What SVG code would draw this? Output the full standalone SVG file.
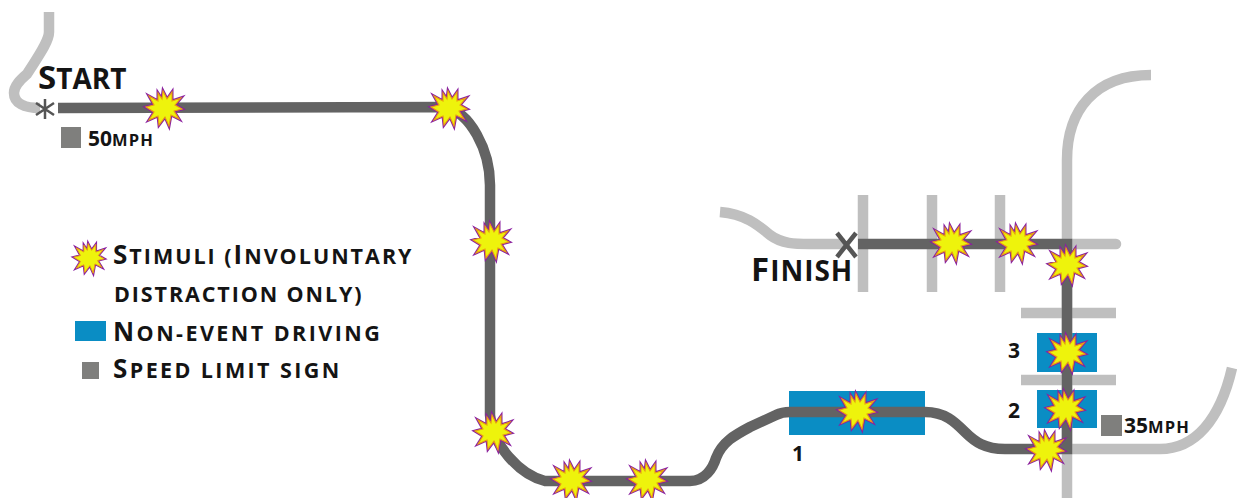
<svg xmlns="http://www.w3.org/2000/svg" xmlns:xlink="http://www.w3.org/1999/xlink" width="1241" height="498" viewBox="0 0 1241 498">
<style>
.lt{fill:none;stroke:#bfbfbf;stroke-width:10.5}
.dk{fill:none;stroke:#636363;stroke-width:10.5}
.mk{fill:none;stroke:#555;stroke-linecap:butt}
.bl{fill:#0a8dc4}
.gr{fill:#7f7f7d}
text{font-family:"Open Sans","Noto Sans",sans-serif;font-weight:700;fill:#141414}
.t1{font-size:33px}
.t1 tspan{font-size:28px}
.t2{font-size:26px;letter-spacing:2px}
.t2 tspan{font-size:21.5px}
.t3{font-size:21px}
.t3 tspan{font-size:16.5px;letter-spacing:1.2px}
.so{fill:none;stroke:#8a1fa0;stroke-width:3;stroke-linejoin:miter;stroke-miterlimit:10}
.si{fill:#eef30c;stroke:#e8a010;stroke-width:1.1;stroke-linejoin:miter;stroke-miterlimit:10}
</style>
<defs>
<polygon id="sp" points="-1,-17 3,-9 8,-16 8,-7 17,-10 11,-3 18,1 10,3 15,11 7,7 5,18 1,9 -5,17 -6,8 -15,12 -10,4 -18,-1 -10,-3 -15,-12 -6,-7 -6,-15 -2,-9"/>
<g id="star"><use xlink:href="#sp" class="so"/><use xlink:href="#sp" class="si"/></g>
</defs>
<rect width="1241" height="498" fill="#fff"/>
<g id="blocks">
<rect class="bl" x="789" y="391" width="136" height="44"/>
<rect class="bl" x="1037" y="333" width="60" height="39"/>
<rect class="bl" x="1037" y="390" width="60" height="38"/>
</g>
<g id="connectors">
<path class="lt" d="M49 12V32C49 42 37 58 27 74C20 80 14 86 14 93C14 103 24 108 40 108"/>
<path class="lt" d="M720 212C745 214 758 225 770 235C782 244 795 244 810 244H845"/>
<path class="lt" d="M863 195V292M932 195V292M1000 195V292"/>
<path class="lt" d="M1067 498V160C1067 110 1095 75 1151 75"/>
<path class="lt" d="M1067 244H1116" stroke-linecap="round"/>
<path class="lt" d="M1021 313H1116M1021 380H1116"/>
<path class="lt" d="M1067 449H1160C1195 449 1220 420 1232 368"/>
<path class="dk" d="M58 108L445 107C470 112 490 150 490 185V415C492 445 520 475 545 481H690C705 481 713 468 716 458C722 442 735 435 750 427L776 415C780 413 783 412 790 412H925C945 412 955 422 965 432C975 442 985 449 1005 449H1067V244H858"/>
</g>
<g id="start">
<path class="mk" stroke-width="2.5" d="M45 99V119M36 103L54 115M54 103L36 115"/>
<text class="t1" x="38" y="89">S<tspan>TART</tspan></text>
</g>
<g id="finish">
<path class="mk" stroke-width="4.5" d="M837 233L856 257M856 233L837 257"/>
<text class="t1" x="751" y="281" letter-spacing="1">F<tspan>INISH</tspan></text>
</g>
<g id="sign-50"><rect class="gr" x="61" y="127" width="20" height="21"/><text class="t3" x="88" y="146">50<tspan>MPH</tspan></text></g>
<g id="sign-35"><rect class="gr" x="1101" y="415" width="21" height="21"/><text class="t3" x="1124" y="433">35<tspan>MPH</tspan></text></g>
<g id="labels">
<text class="t3" x="792" y="461">1</text>
<text class="t3" x="1008" y="418">2</text>
<text class="t3" x="1008" y="358">3</text>
</g>
<g id="stimuli">
<use xlink:href="#star" x="164" y="108"/>
<use xlink:href="#star" x="449" y="108"/>
<use xlink:href="#star" x="491" y="241"/>
<use xlink:href="#star" x="493" y="432"/>
<use xlink:href="#star" x="571" y="480"/>
<use xlink:href="#star" x="647" y="480"/>
<use xlink:href="#star" x="857" y="411"/>
<use xlink:href="#star" x="951" y="243"/>
<use xlink:href="#star" x="1017" y="243"/>
<use xlink:href="#star" x="1067" y="265"/>
<use xlink:href="#star" x="1067" y="353"/>
<use xlink:href="#star" x="1065" y="409"/>
<use xlink:href="#star" x="1046" y="450"/>
</g>
<g id="legend">
<use xlink:href="#star" transform="translate(89 258) scale(.85)"/>
<text class="t2" x="113" y="264">S<tspan>TIMULI (</tspan>I<tspan>NVOLUNTARY</tspan></text>
<text class="t2" x="114" y="302" style="letter-spacing:1.9px"><tspan>DISTRACTION ONLY)</tspan></text>
<rect class="bl" x="75" y="321" width="31" height="20"/>
<text class="t2" x="113" y="341" style="letter-spacing:2.45px">N<tspan>ON-EVENT DRIVING</tspan></text>
<rect class="gr" x="82" y="362" width="17" height="17"/>
<text class="t2" x="113" y="378" style="letter-spacing:2.4px">S<tspan>PEED LIMIT SIGN</tspan></text>
</g>
</svg>
